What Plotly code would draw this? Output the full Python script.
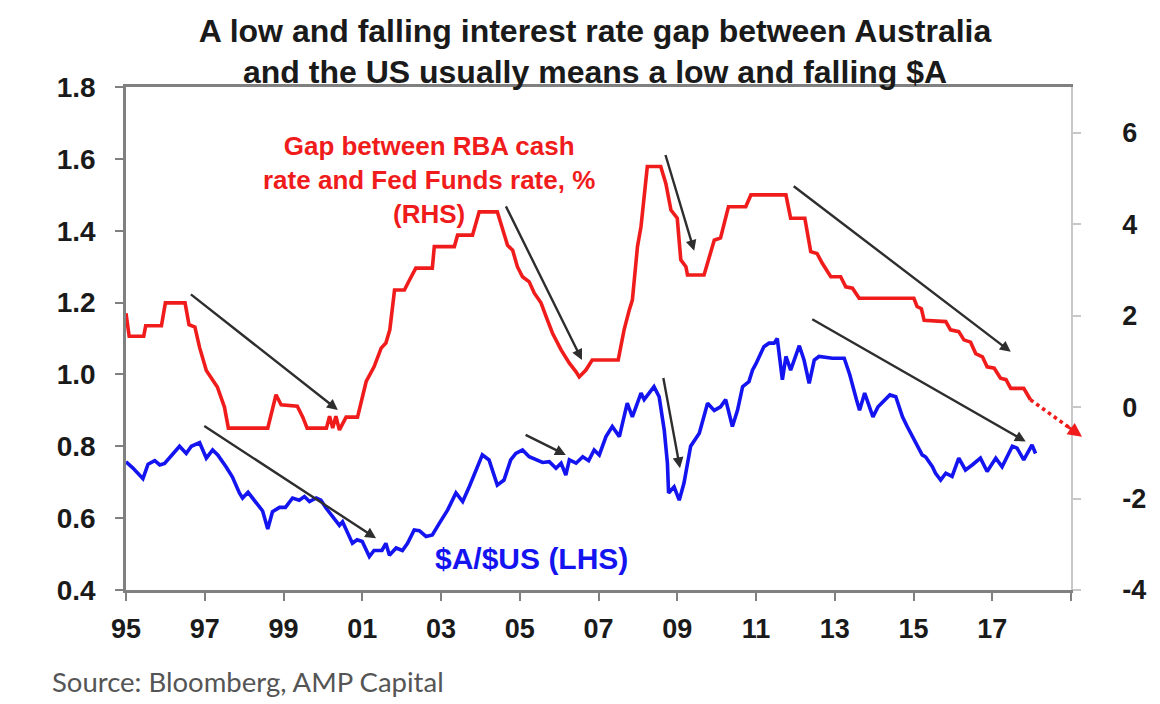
import plotly.graph_objects as go

# ---------------- data ----------------
gap_years = [1995.00, 1995.08, 1995.45, 1995.50, 1995.90, 1996.00, 1996.50, 1996.60, 1996.75, 1996.87,
             1997.04, 1997.16, 1997.32, 1997.50, 1997.60, 1998.60, 1998.81, 1998.94, 1999.35, 1999.49,
             1999.60, 2000.09, 2000.17, 2000.25, 2000.33, 2000.42, 2000.59, 2000.88, 2001.00, 2001.10,
             2001.30, 2001.48, 2001.60, 2001.70, 2001.82, 2002.07, 2002.20, 2002.36, 2002.78, 2002.83,
             2003.34, 2003.42, 2003.80, 2003.97, 2004.43, 2004.69, 2004.82, 2004.94, 2005.07, 2005.24,
             2005.37, 2005.54, 2005.67, 2005.83, 2006.05, 2006.26, 2006.43, 2006.51, 2006.68, 2006.84,
             2007.50, 2007.65, 2007.78, 2007.86, 2007.99, 2008.08, 2008.24, 2008.58, 2008.71, 2008.84,
             2009.00, 2009.09, 2009.22, 2009.26, 2009.68, 2009.81, 2009.94, 2010.10, 2010.30, 2010.74,
             2010.87, 2011.76, 2011.88, 2012.24, 2012.39, 2012.55, 2012.68, 2012.90, 2013.15, 2013.28,
             2013.45, 2013.62, 2015.01, 2015.09, 2015.20, 2015.27, 2015.82, 2015.94, 2016.15, 2016.28,
             2016.45, 2016.58, 2016.75, 2016.87, 2017.05, 2017.21, 2017.35, 2017.47, 2017.80, 2017.97]
gap_values = [2.05, 1.55, 1.55, 1.78, 1.78, 2.28, 2.28, 1.80, 1.75, 1.30,
              0.80, 0.65, 0.44, 0.00, -0.46, -0.46, 0.27, 0.05, 0.02, -0.22,
              -0.46, -0.46, -0.20, -0.46, -0.20, -0.50, -0.22, -0.22, 0.22, 0.56,
              0.88, 1.29, 1.40, 1.69, 2.56, 2.56, 2.78, 3.04, 3.04, 3.51,
              3.51, 3.76, 3.76, 4.27, 4.27, 3.54, 3.43, 3.07, 2.85, 2.74,
              2.49, 2.28, 1.98, 1.62, 1.25, 0.96, 0.77, 0.66, 0.81, 1.03,
              1.03, 1.69, 2.12, 2.34, 3.51, 3.95, 5.26, 5.26, 4.89, 4.31,
              4.13, 3.22, 3.07, 2.89, 2.89, 3.29, 3.65, 3.70, 4.38, 4.38,
              4.64, 4.64, 4.13, 4.13, 3.40, 3.36, 3.15, 2.85, 2.85, 2.63,
              2.60, 2.38, 2.38, 2.20, 2.15, 1.90, 1.87, 1.69, 1.65, 1.47,
              1.42, 1.17, 1.10, 0.88, 0.85, 0.63, 0.60, 0.41, 0.41, 0.16]

gap_forecast_years = [2017.97, 2019.28]
gap_forecast_values = [0.16, -0.65]

aud_years = [1995.00, 1995.17, 1995.43, 1995.56, 1995.73, 1995.86, 1995.98, 1996.10, 1996.36, 1996.53,
             1996.66, 1996.87, 1997.04, 1997.20, 1997.33, 1997.54, 1997.70, 1997.88, 1997.96, 1998.10,
             1998.26, 1998.47, 1998.60, 1998.72, 1998.90, 1999.05, 1999.23, 1999.40, 1999.53, 1999.66,
             1999.83, 1999.95, 2000.08, 2000.24, 2000.42, 2000.50, 2000.62, 2000.75, 2000.87, 2001.00,
             2001.18, 2001.30, 2001.50, 2001.60, 2001.69, 2001.86, 2002.02, 2002.15, 2002.32, 2002.45,
             2002.62, 2002.78, 2002.96, 2003.17, 2003.38, 2003.55, 2003.72, 2003.89, 2004.05, 2004.22,
             2004.43, 2004.60, 2004.77, 2004.90, 2005.07, 2005.24, 2005.41, 2005.58, 2005.75, 2005.92,
             2006.05, 2006.17, 2006.26, 2006.43, 2006.60, 2006.75, 2006.89, 2007.02, 2007.19, 2007.35,
             2007.53, 2007.73, 2007.86, 2008.08, 2008.16, 2008.41, 2008.54, 2008.67, 2008.75, 2008.78,
             2008.92, 2009.05, 2009.17, 2009.34, 2009.56, 2009.77, 2009.94, 2010.10, 2010.23, 2010.40,
             2010.53, 2010.66, 2010.82, 2010.91, 2011.00, 2011.20, 2011.33, 2011.46, 2011.54, 2011.67,
             2011.76, 2011.88, 2012.10, 2012.22, 2012.35, 2012.48, 2012.60, 2012.94, 2013.24, 2013.38,
             2013.55, 2013.63, 2013.76, 2013.97, 2014.10, 2014.40, 2014.55, 2014.72, 2014.84, 2014.97,
             2015.10, 2015.22, 2015.31, 2015.48, 2015.56, 2015.69, 2015.82, 2015.98, 2016.15, 2016.32,
             2016.49, 2016.70, 2016.87, 2017.09, 2017.25, 2017.51, 2017.63, 2017.80, 2018.01, 2018.10]
aud_values = [0.757, 0.740, 0.710, 0.750, 0.760, 0.748, 0.752, 0.767, 0.800, 0.780,
              0.800, 0.810, 0.767, 0.790, 0.776, 0.743, 0.715, 0.670, 0.656, 0.672,
              0.650, 0.620, 0.570, 0.618, 0.630, 0.630, 0.656, 0.650, 0.660, 0.646,
              0.656, 0.650, 0.628, 0.605, 0.580, 0.590, 0.562, 0.530, 0.540, 0.535,
              0.493, 0.510, 0.510, 0.530, 0.497, 0.517, 0.510, 0.530, 0.567, 0.565,
              0.549, 0.553, 0.586, 0.623, 0.670, 0.646, 0.688, 0.734, 0.776, 0.762,
              0.692, 0.706, 0.762, 0.780, 0.790, 0.771, 0.762, 0.755, 0.757, 0.739,
              0.753, 0.720, 0.762, 0.753, 0.771, 0.760, 0.790, 0.776, 0.827, 0.855,
              0.827, 0.920, 0.882, 0.948, 0.930, 0.966, 0.938, 0.845, 0.753, 0.670,
              0.687, 0.650, 0.697, 0.800, 0.836, 0.920, 0.900, 0.910, 0.930, 0.855,
              0.900, 0.966, 0.980, 1.012, 1.030, 1.077, 1.087, 1.087, 1.100, 0.985,
              1.050, 1.012, 1.080, 1.040, 0.975, 1.040, 1.050, 1.045, 1.045, 1.000,
              0.930, 0.900, 0.948, 0.882, 0.910, 0.943, 0.938, 0.882, 0.855, 0.827,
              0.800, 0.776, 0.770, 0.743, 0.725, 0.706, 0.725, 0.716, 0.767, 0.734,
              0.748, 0.767, 0.730, 0.767, 0.743, 0.800, 0.795, 0.762, 0.804, 0.780]

x_tick_years = [1995, 1997, 1999, 2001, 2003, 2005, 2007, 2009, 2011, 2013, 2015, 2017, 2019]
x_tick_labels = ["95", "97", "99", "01", "03", "05", "07", "09", "11", "13", "15", "17", ""]
left_ticks = [0.4, 0.6, 0.8, 1.0, 1.2, 1.4, 1.6, 1.8]
right_ticks = [-4, -2, 0, 2, 4, 6]

# trend arrows: (tail_year, tail_value, head_year, head_value) on left-axis scale
arrow_tail_years = [1996.61, 1996.95, 2004.63, 2005.11, 2008.69, 2008.64, 2011.92, 2012.39]
arrow_tail_values = [1.226, 0.859, 1.472, 0.834, 1.615, 0.994, 1.527, 1.156]
arrow_head_years = [2000.38, 2001.35, 2006.58, 2006.17, 2009.43, 2009.07, 2017.47, 2017.85]
arrow_head_values = [0.901, 0.544, 1.040, 0.776, 1.344, 0.739, 1.063, 0.813]

RED = "#f01c1c"
BLUE = "#1414f0"
FONT = "Liberation Sans, Arial, sans-serif"

X_RANGE = [1995, 2019]
Y2_RANGE = [-4, 7]
MARGIN = dict(l=126, r=89, t=87, b=114)
W, H = 1160, 704
plot_w = W - MARGIN["l"] - MARGIN["r"]
plot_h = H - MARGIN["t"] - MARGIN["b"]

fig = go.Figure()
fig.add_trace(go.Scatter(x=gap_years, y=gap_values, yaxis="y2", mode="lines",
                         line=dict(color=RED, width=3.6), showlegend=False, hoverinfo="skip"))
fig.add_trace(go.Scatter(x=gap_forecast_years, y=gap_forecast_values, yaxis="y2", mode="lines",
                         line=dict(color=RED, width=3.6, dash="dot"), showlegend=False, hoverinfo="skip"))
fig.add_trace(go.Scatter(x=aud_years, y=aud_values, yaxis="y", mode="lines",
                         line=dict(color=BLUE, width=3.6), showlegend=False, hoverinfo="skip"))

annotations = []
for tx, ty, hx, hy in zip(arrow_tail_years, arrow_tail_values, arrow_head_years, arrow_head_values):
    annotations.append(dict(x=hx, y=hy, ax=tx, ay=ty, xref="x", yref="y", axref="x", ayref="y",
                            text="", showarrow=True, arrowhead=2, arrowsize=0.9, arrowwidth=2.4,
                            arrowcolor="#2e2e2e"))

# arrowhead at end of the dotted forecast (it lies past the axis end, so use paper coordinates)
fx0, fx1 = gap_forecast_years
fy0, fy1 = gap_forecast_values
head_px = (fx1 - X_RANGE[0]) / (X_RANGE[1] - X_RANGE[0])
head_py = (fy1 - Y2_RANGE[0]) / (Y2_RANGE[1] - Y2_RANGE[0])
dx_pix = (fx1 - fx0) / (X_RANGE[1] - X_RANGE[0]) * plot_w
dy_pix = (fy1 - fy0) / (Y2_RANGE[1] - Y2_RANGE[0]) * plot_h
length = (dx_pix ** 2 + dy_pix ** 2) ** 0.5
tail_len = 22.0
annotations.append(dict(x=head_px, y=head_py, xref="paper", yref="paper",
                        ax=-dx_pix / length * tail_len, ay=dy_pix / length * tail_len,
                        axref="pixel", ayref="pixel", text="", showarrow=True,
                        arrowhead=2, arrowsize=1.0, arrowwidth=2.8, arrowcolor=RED))

annotations.append(dict(x=2002.70, y=1.541, xref="x", yref="y", showarrow=False,
                        text="Gap between RBA cash<br>rate and Fed Funds rate, %<br>(RHS)",
                        align="center", font=dict(family=FONT, size=26, color=RED, weight="bold")))
annotations.append(dict(x=2005.29, y=0.489, xref="x", yref="y", showarrow=False,
                        text="$A/$US (LHS)",
                        font=dict(family=FONT, size=30, color=BLUE, weight="bold")))
annotations.append(dict(x=-0.0804, y=-0.181, xref="paper", yref="paper", xanchor="left", yanchor="middle",
                        showarrow=False, text="Source: Bloomberg, AMP Capital",
                        font=dict(family="Lato, Open Sans, sans-serif", size=27.5, color="#555555")))

fig.update_layout(
    width=W, height=H,
    margin=MARGIN,
    paper_bgcolor="white", plot_bgcolor="white",
    title=dict(text="A low and falling interest rate gap between Australia<br>and the US usually means a low and falling $A",
               x=0.513, xanchor="center", y=0.941, yanchor="middle",
               font=dict(family=FONT, size=32, color="#1a1a1a", weight="bold")),
    xaxis=dict(range=X_RANGE, tickvals=x_tick_years, ticktext=x_tick_labels,
               showgrid=False, zeroline=False, showline=True, linecolor="#808080", linewidth=2.5,
               mirror=True, ticks="outside", ticklen=8, tickwidth=1.5, tickcolor="#808080",
               ticklabelstandoff=5,
               tickfont=dict(family=FONT, size=27, color="#1a1a1a", weight="bold")),
    yaxis=dict(range=[0.4, 1.8], tickvals=left_ticks, ticktext=[f"{v:.1f}" for v in left_ticks],
               showgrid=False, zeroline=False, showline=True, linecolor="#808080", linewidth=2.5,
               ticks="outside", ticklen=8, tickwidth=1.5, tickcolor="#808080",
               ticklabelstandoff=14,
               tickfont=dict(family=FONT, size=28, color="#1a1a1a", weight="bold")),
    yaxis2=dict(range=Y2_RANGE, tickvals=right_ticks, ticktext=[str(v) for v in right_ticks],
                overlaying="y", side="right",
                showgrid=False, zeroline=False, showline=True, linecolor="#c8c8c8", linewidth=1.5,
                ticks="outside", ticklen=8, tickwidth=1.5, tickcolor="#c8c8c8",
                ticklabelstandoff=36,
                tickfont=dict(family=FONT, size=27, color="#1a1a1a", weight="bold")),
    annotations=annotations,
)

fig.write_html("out.html")
